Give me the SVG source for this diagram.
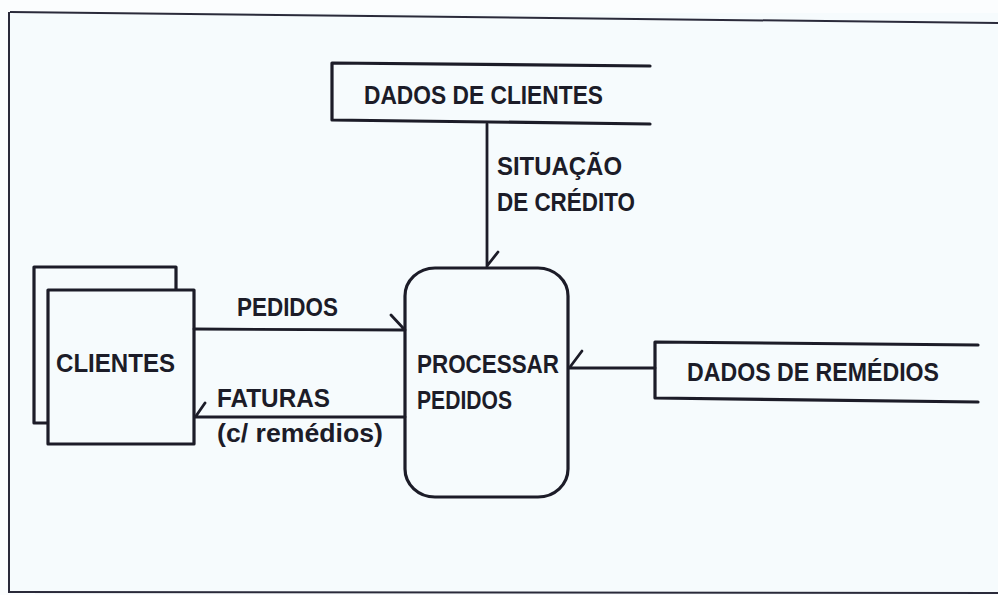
<svg xmlns="http://www.w3.org/2000/svg" width="998" height="595" viewBox="0 0 998 595">
<style>
.t{font-family:"Liberation Sans",Arial,sans-serif;font-weight:bold;font-size:26px;fill:#1c1c28}
.b{fill:none;stroke:#1c1c28;stroke-width:3.2;stroke-linejoin:round;stroke-linecap:round}
.bf{fill:#f6fbfd;stroke:#1c1c28;stroke-width:3.2;stroke-linejoin:round}
.c{fill:none;stroke:#1c1c28;stroke-width:2.8;stroke-linecap:round}
.f{fill:none;stroke:#2a2a3a;stroke-width:2}
</style>
<rect x="0" y="0" width="998" height="595" fill="#fbfdfe"/>
<rect x="10" y="13" width="988" height="580" fill="#f6fbfd"/>
<g id="frame">
<path class="f" d="M10,12 L998,23"/>
<path class="f" d="M9,12 L9,593"/>
<path class="f" d="M9,592 L998,593"/>
</g>
<g id="dados-clientes">
<path class="b" d="M650,66 L332,63 L332,120 L650,124"/>
<text class="t" x="364" y="104" textLength="239" lengthAdjust="spacingAndGlyphs">DADOS DE CLIENTES</text>
</g>
<g id="clientes">
<rect class="bf" x="34" y="267" width="142" height="156"/>
<rect class="bf" x="48" y="290" width="146" height="154"/>
<text class="t" x="56" y="372" textLength="119" lengthAdjust="spacingAndGlyphs">CLIENTES</text>
</g>
<g id="processar-pedidos">
<rect class="bf" x="405" y="268" width="163" height="229" rx="30" ry="28"/>
<text class="t" x="417" y="373" textLength="142" lengthAdjust="spacingAndGlyphs">PROCESSAR</text>
<text class="t" x="417" y="409" textLength="95" lengthAdjust="spacingAndGlyphs">PEDIDOS</text>
</g>
<g id="dados-remedios">
<path class="b" d="M978,345 L655,342 L655,398 L978,402"/>
<text class="t" x="687" y="381" textLength="252" lengthAdjust="spacingAndGlyphs">DADOS DE REMÉDIOS</text>
</g>
<g id="connectors">
<path class="c" d="M487,124 L487,267 M487,266 L498,252"/>
<text class="t" x="497" y="175" textLength="125" lengthAdjust="spacingAndGlyphs">SITUAÇÃO</text>
<text class="t" x="497" y="211" textLength="138" lengthAdjust="spacingAndGlyphs">DE CRÉDITO</text>
<path class="c" d="M194,329 L405,330 M404,329 L391,315"/>
<text class="t" x="237" y="316" textLength="101" lengthAdjust="spacingAndGlyphs">PEDIDOS</text>
<path class="c" d="M405,417 L195,417 M196,416 L205,403"/>
<text class="t" x="217" y="407" textLength="113" lengthAdjust="spacingAndGlyphs">FATURAS</text>
<text class="t" x="217" y="442" textLength="166" lengthAdjust="spacingAndGlyphs">(c/ remédios)</text>
<path class="c" d="M655,368 L569,368 M570,367 L582,351"/>
</g>
</svg>
